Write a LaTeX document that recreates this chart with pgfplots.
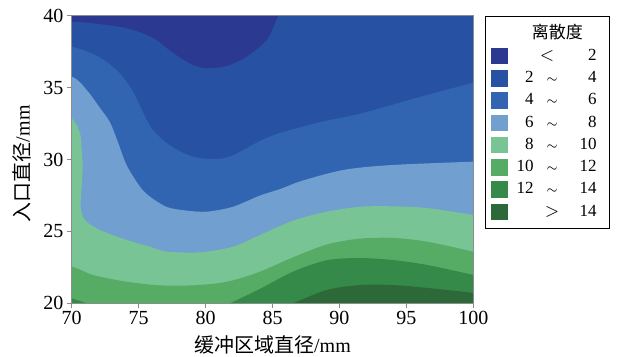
\documentclass[border=0pt]{standalone}
\usepackage{pgfplots}
\pgfplotsset{compat=1.18}
\usetikzlibrary{calc}
\usepackage{fontspec}
\setmainfont{Liberation Serif}
\newfontfamily\cjk{Noto Sans CJK SC}
\definecolor{c1}{RGB}{43,57,145}
\definecolor{c2}{RGB}{39,82,163}
\definecolor{c3}{RGB}{49,101,178}
\definecolor{c4}{RGB}{112,159,208}
\definecolor{c5}{RGB}{120,196,148}
\definecolor{c6}{RGB}{86,172,101}
\definecolor{c7}{RGB}{53,137,73}
\definecolor{c8}{RGB}{44,104,56}
\newcommand{\lgt}[3]{\makebox[11.5pt][r]{#1}\makebox[18.5pt][c]{#2}\makebox[13pt][r]{#3}\hspace*{3.15pt}}
\newcommand{\tld}{{\fontsize{6.5}{6.5}\selectfont$\sim$}}
\begin{document}
\begin{tikzpicture}
\begin{axis}[
  name=ax, scale only axis, width=200.8pt, height=143.65pt,
  xmin=70, xmax=100, ymin=20, ymax=40,
  xtick={70,75,80,85,90,95,100}, ytick={20,25,30,35,40},
  tick align=outside, tick pos=left, major tick length=2.5pt,
  axis line style={draw=black!45, line width=0.5pt},
  every tick/.style={draw=black!45, line width=0.5pt},
  axis on top,
  /pgf/number format/assume math mode=true,
  ticklabel style={font=\fontsize{10}{12}\selectfont},
  xticklabel style={inner sep=1.5pt},
  yticklabel style={inner sep=1.5pt},
  xlabel={{\cjk 缓冲区域直径}/mm}, ylabel={{\cjk 入口直径}/mm},
  xlabel style={font=\fontsize{9}{11}\selectfont},
  ylabel style={font=\fontsize{9.6}{11}\selectfont},
  every axis x label/.style={at={(axis description cs:0.5,-0.146)},anchor=center},
  every axis y label/.style={at={(axis description cs:-0.124,0.486)},anchor=center,rotate=90},
  legend cell align=left,
  legend image code/.code={\fill[#1] (0pt,-4.15pt) rectangle (8.5pt,4.15pt);},
  legend style={at={(1.029,1)}, anchor=north west, draw=black, line width=0.6pt,
    font=\fontsize{8.5}{10}\selectfont, inner xsep=2.85pt, inner ysep=4pt,
    column sep=1.15pt, row sep=2.845pt, nodes={inner sep=0pt}},
]
\addlegendimage{empty legend}
\addlegendentry{\makebox[46.7pt][c]{\cjk\fontsize{8.5}{10}\selectfont 离散度}}

% < 2 (background)
\addplot[fill=c1, draw=none] coordinates {(64,45) (106,45) (106,15) (64,15)};
\addlegendentry{\lgt{}{\hspace*{-5pt}\fontsize{9.5}{10}\selectfont$<$}{2}}

% > 2
\addplot[fill=c2, draw=none, smooth, tension=0.5] coordinates {
(64,39.7) (67,39.65) (70,39.6) (71.59,39.49) (74.13,39.14) (76.07,38.47) (77.57,37.42)
(79.06,36.59) (80.11,36.36) (81.60,36.52) (83.09,37.17) (84.59,38.33) (85.19,39.49)
(85.41,40.0) (85.5,41) (85.6,44) (106,44) (106,15) (64,15)};
\addlegendentry{\lgt{2}{\tld}{4}}

% > 4
\addplot[fill=c3, draw=none, smooth, tension=0.5] coordinates {
(64,38.6) (67,38.25) (70,37.86) (71.6,37.35) (72.6,36.8) (73.6,36.0) (74.6,34.7)
(75.85,32.35) (77.1,31.15) (78.5,30.4) (79.6,30.1) (81,30.05) (82.1,30.32)
(84.06,31.3) (85.56,31.85) (88.5,32.6) (91.54,33.2) (96,34.36) (100,35.36)
(103,36.1) (106,36.8) (106,15) (64,15)};
\addlegendentry{\lgt{4}{\tld}{6}}

% > 6
\addplot[fill=c4, draw=none, smooth, tension=0.5] coordinates {
(64,36.8) (67,36.3) (70,35.77) (71.12,34.85) (72.11,33.6) (72.86,32.6) (73.46,31.2)
(74.11,29.6) (75.10,28.12) (75.85,27.42) (77.12,26.70) (78.61,26.45) (80.11,26.38)
(82.05,26.72) (84.06,27.5) (85.56,27.95) (87.28,28.55) (90.4,29.3) (94.0,29.63)
(100,29.86) (103,29.95) (106,30.0) (106,15) (64,15)};
\addlegendentry{\lgt{6}{\tld}{8}}

% > 8
\addplot[fill=c5, draw=none, smooth, tension=0.5] coordinates {
(64,15) (64,35) (68,34.2) (70,32.88) (70.62,31.85) (70.75,30.67) (70.82,29.51)
(70.75,28.12) (70.67,26.72) (70.99,25.80) (72.11,25.10) (74.11,24.41) (75.85,23.94)
(77.12,23.6) (79.58,23.55) (82.05,23.94) (84.06,24.75) (86.53,25.75) (89.07,26.38)
(91.54,26.72) (94.0,26.75) (96.54,26.63) (100,26.15) (103,25.7) (106,25.2) (106,15)};
\addlegendentry{\lgt{8}{\tld}{10}}

% > 10
\addplot[fill=c6, draw=none, smooth, tension=0.5] coordinates {
(64,23.5) (67,23.0) (70,22.55) (71.59,21.97) (74.13,21.5) (76.6,21.25) (79.06,21.25)
(81.6,21.5) (84.06,22.2) (86.53,23.2) (89.07,24.1) (91.54,24.5) (94.0,24.55)
(96.54,24.29) (100,23.59) (103,22.9) (106,22.2) (106,15) (64,15)};
\addlegendentry{\lgt{10}{\tld}{12}}

% > 12
\addplot[fill=c7, draw=none, smooth, tension=0.5] coordinates {
(75,17) (77.4,18) (79.6,19) (81.83,20) (84.06,21.0) (86.53,22.2) (89.07,23.0)
(91.54,23.15) (94.0,23.01) (96.54,22.67) (100,21.97) (103,21.3) (106,20.6) (106,15) (75,15)};
\addlegendentry{\lgt{12}{\tld}{14}}
\addplot[fill=c7, draw=none, forget plot] coordinates {
(67,20.95) (70,20.35) (71.12,20) (72.5,19.3) (67,19.3)};

% > 14
\addplot[fill=c8, draw=none, smooth, tension=0.5] coordinates {
(81.5,18.15) (84,19.07) (86.53,20) (89.07,20.93) (91.54,21.27) (94.0,21.27)
(96.54,21.07) (100,20.72) (103,20.3) (106,19.9) (106,15) (81.5,15)};
\addlegendentry{\lgt{}{\fontsize{9.5}{10}\selectfont$>$}{14}}
\end{axis}
\pgfresetboundingbox
\path[use as bounding box] ($(ax.south west)+(-35.85pt,-26.85pt)$) rectangle ($(ax.north east)+(72.85pt,8pt)$);
\end{tikzpicture}
\end{document}
